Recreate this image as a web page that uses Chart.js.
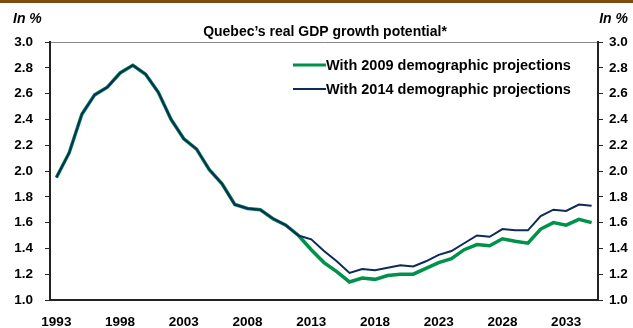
<!DOCTYPE html>
<html>
<head>
<meta charset="utf-8">
<script src="https://cdn.jsdelivr.net/npm/chart.js@4"></script>
<style>
  body { margin: 0; background: #fff; }
  #wrap { width: 633px; height: 328px; }
</style>
</head>
<body>
<div id="wrap"><canvas id="gdpChart" width="633" height="328"></canvas></div>
<script>
// Years 1993..2035
var years = ['1993','1994','1995','1996','1997','1998','1999','2000','2001','2002',
  '2003','2004','2005','2006','2007','2008','2009','2010','2011','2012',
  '2013','2014','2015','2016','2017','2018','2019','2020','2021','2022',
  '2023','2024','2025','2026','2027','2028','2029','2030','2031','2032',
  '2033','2034','2035'];

// Potential growth, in %
var proj2009 = [1.95, 2.14, 2.44, 2.59, 2.65, 2.76, 2.82, 2.75, 2.61, 2.40,
  2.25, 2.17, 2.01, 1.90, 1.74, 1.71, 1.70, 1.63, 1.58, 1.50,
  1.39, 1.29, 1.22, 1.14, 1.17, 1.16, 1.19, 1.20, 1.20, 1.245,
  1.29, 1.32, 1.39, 1.43, 1.42, 1.475, 1.455, 1.44, 1.55, 1.60,
  1.58, 1.625, 1.60];
var proj2014 = [1.95, 2.14, 2.44, 2.59, 2.65, 2.76, 2.82, 2.75, 2.61, 2.40,
  2.25, 2.17, 2.01, 1.90, 1.74, 1.71, 1.70, 1.63, 1.58, 1.50,
  1.47, 1.38, 1.30, 1.21, 1.24, 1.23, 1.25, 1.27, 1.26, 1.30,
  1.35, 1.38, 1.44, 1.50, 1.49, 1.55, 1.54, 1.54, 1.65, 1.70,
  1.69, 1.74, 1.73];

var seriesNames = ['With 2009 demographic projections', 'With 2014 demographic projections'];
var seriesColors = ['#00914a', '#0c2a5a'];

var font = 'Liberation Sans, Arial, sans-serif';

// title, unit labels, top bar and legend
var extras = {
  id: 'extras',
  afterDraw: function(chart) {
    var ctx = chart.ctx;
    ctx.save();
    ctx.fillStyle = '#7e4a12';
    ctx.fillRect(0, 0, 633, 3);

    ctx.fillStyle = '#000';
    ctx.textBaseline = 'middle';
    ctx.font = 'italic bold 14px ' + font;
    ctx.textAlign = 'left';
    ctx.fillText('In %', 13, 19);
    ctx.textAlign = 'right';
    ctx.fillText('In %', 628, 19);

    ctx.font = 'bold 14px ' + font;
    ctx.textAlign = 'center';
    ctx.fillText('Quebec\u2019s real GDP growth potential*', 325, 32);

    ctx.font = 'bold 14.5px ' + font;
    ctx.textAlign = 'left';
    var ly = [65, 89];
    for (var i = 0; i < 2; i++) {
      ctx.strokeStyle = seriesColors[i];
      ctx.lineWidth = i == 0 ? 3 : 2;
      ctx.beginPath();
      ctx.moveTo(293, ly[i]);
      ctx.lineTo(326, ly[i]);
      ctx.stroke();
      ctx.fillStyle = '#000';
      ctx.fillText(seriesNames[i], 326, ly[i] + 1);
    }
    ctx.restore();
  }
};

var ctx = document.getElementById('gdpChart').getContext('2d');
var gdpChart = new Chart(ctx, {
  type: 'line',
  data: {
    labels: years,
    datasets: [{
      label: seriesNames[0],
      data: proj2009,
      borderColor: seriesColors[0],
      borderWidth: 3.5,
      pointRadius: 0,
      order: 1
    }, {
      label: seriesNames[1],
      data: proj2014,
      borderColor: seriesColors[1],
      borderWidth: 2,
      pointRadius: 0,
      order: 0
    }]
  },
  options: {
    responsive: false,
    animation: false,
    layout: { padding: { top: 42, left: 0, right: 0, bottom: 0 } },
    plugins: { legend: { display: false }, tooltip: { enabled: false } },
    scales: {
      x: {
        offset: true,
        grid: { display: false, drawTicks: false },
        border: { color: '#222', width: 2 },
        ticks: {
          autoSkip: false, maxRotation: 0, padding: 14,
          color: '#000', font: { family: font, size: 13.5, weight: 'bold' },
          callback: function(v, i) { return (i % 5 == 0) ? years[i] : ''; }
        },
        afterFit: function(s) { s.height = 28; }
      },
      y: {
        position: 'left',
        min: 1, max: 3,
        grid: {
          color: function(c) { return c.tick && c.tick.value == 3 ? '#888' : 'rgba(0,0,0,0)'; },
          tickColor: '#222', tickLength: 5, lineWidth: 1
        },
        border: { color: '#222', width: 2 },
        ticks: {
          stepSize: 0.2, padding: 12, color: '#000',
          font: { family: font, size: 13.5, weight: 'bold' },
          callback: function(v) { return v.toFixed(1); }
        },
        afterFit: function(s) { s.width = 50; }
      },
      y1: {
        position: 'right',
        min: 1, max: 3,
        grid: { drawOnChartArea: false, tickColor: '#222', tickLength: 5 },
        border: { color: '#222', width: 2 },
        ticks: {
          stepSize: 0.2, padding: 6, color: '#000',
          font: { family: font, size: 13.5, weight: 'bold' },
          callback: function(v) { return v.toFixed(1); }
        },
        afterFit: function(s) { s.width = 35; }
      }
    }
  },
  plugins: [extras]
});
</script>
</body>
</html>
